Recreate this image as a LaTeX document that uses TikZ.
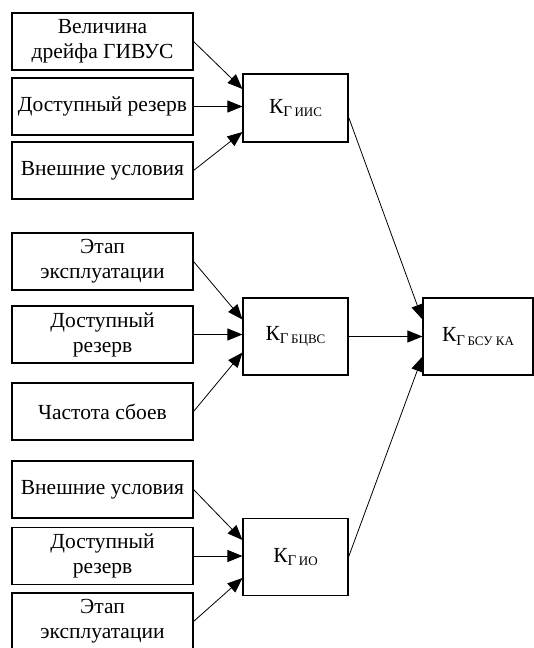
\documentclass[tikz,border=0pt]{standalone}
\usepackage{fontspec}
\setmainfont{Liberation Serif}
\usetikzlibrary{arrows.meta}

\newcommand{\coefk}[1]{К\raisebox{-0.35ex}{\fontsize{15}{15}\selectfont Г\,{\fontsize{13}{13}\selectfont #1}}}

\tikzset{
  factor/.style={draw, line width=1.1pt, minimum width=181pt, minimum height=57pt,
    inner sep=2pt, align=center, font=\fontsize{21.5}{25}\selectfont},
  coefbox/.style={draw, line width=1.1pt, minimum width=105pt, minimum height=77pt,
    font=\fontsize{21.5}{25}\selectfont},
  link/.style={-{Triangle[length=15pt,width=12pt]}, line width=0.8pt}
}

\begin{document}
\begin{tikzpicture}[x=1pt, y=-1pt]
  \useasboundingbox (0,0) rectangle (534,648);

  % first group
  \node[factor] (drift) at (102.5,41.5) {Величина\\дрейфа ГИВУС};
  \node[factor] (res1) at (102.5,106.5) {Доступный резерв};
  \node[factor] (env1) at (102.5,170.5) {Внешние условия};
  \node[coefbox, minimum height=68pt] (iis) at (295.5,108) {\coefk{ИИС}};

  % second group
  \node[factor] (stage1) at (102.5,261.5) {Этап\\эксплуатации};
  \node[factor] (res2) at (102.5,334.5) {Доступный\\резерв};
  \node[factor] (fail) at (102.5,411.5) {Частота сбоев};
  \node[coefbox] (bcvs) at (295.5,336.5) {\coefk{БЦВС}};

  % third group
  \node[factor] (env2) at (102.5,489.5) {Внешние условия};
  \node[factor] (res3) at (102.5,556) {Доступный\\резерв};
  \node[factor] (stage2) at (102.5,621.5) {Этап\\эксплуатации};
  \node[coefbox] (io) at (295.5,557) {\coefk{ИО}};

  % result
  \node[coefbox, minimum width=110pt] (bsu) at (478,336.5) {\coefk{БСУ КА}};

  \draw[link] (drift.east) -- ([yshift=19pt]iis.west);
  \draw[link] (res1.east) -- (res1.east -| iis.west);
  \draw[link] (env1.east) -- ([yshift=-24pt]iis.west);

  \draw[link] (stage1.east) -- ([yshift=17pt]bcvs.west);
  \draw[link] (res2.east) -- (res2.east -| bcvs.west);
  \draw[link] (fail.east) -- ([yshift=-16pt]bcvs.west);

  \draw[link] (env2.east) -- ([yshift=17pt]io.west);
  \draw[link] (res3.east) -- (res3.east -| io.west);
  \draw[link] (stage2.east) -- ([yshift=-21pt]io.west);

  \draw[link] ([yshift=-9pt]iis.east) -- ([yshift=17pt]bsu.west);
  \draw[link] (bcvs.east) -- (bsu.west);
  \draw[link] (io.east) -- ([yshift=-20pt]bsu.west);
\end{tikzpicture}
\end{document}
